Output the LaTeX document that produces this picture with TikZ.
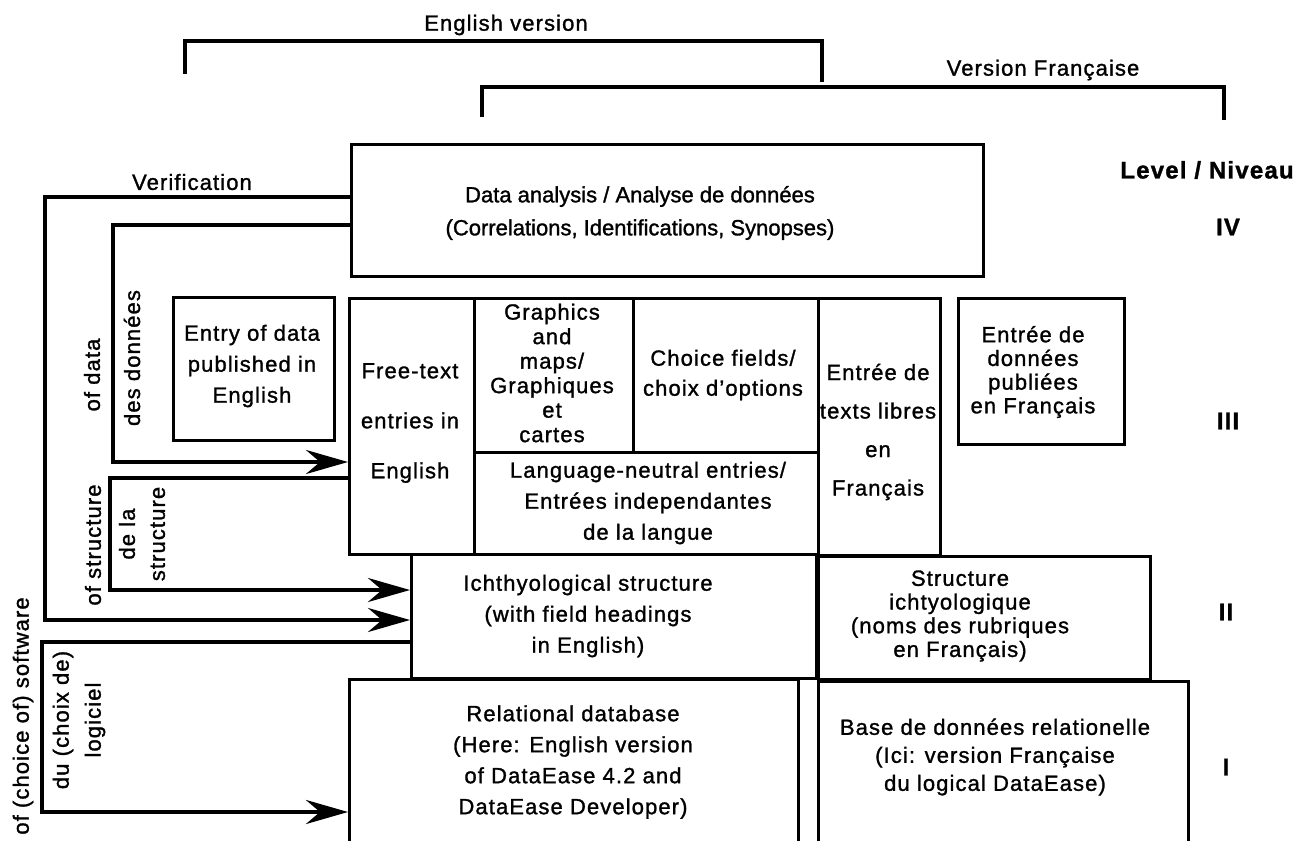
\documentclass[tikz,border=0pt]{standalone}
\usepackage{fontspec}
\setmainfont{Liberation Sans}[LetterSpace=5,FakeBold=1.3]
\newfontfamily\plainfont{Liberation Sans}[FakeBold=1.3]
\usetikzlibrary{arrows.meta}
\newcommand{\fsz}[2]{\fontsize{#1}{#2}\selectfont}
\begin{document}
\begin{tikzpicture}[x=1pt,y=-1pt,
  box/.style={draw,line width=3pt,inner sep=0pt,anchor=north west},
  txt/.style={align=center,inner sep=0pt},
  conn/.style={line width=4pt},
  arr/.style={conn,-{Stealth[length=42pt,width=24pt,inset=14pt]}},
  lab/.style={inner sep=0pt,font=\fsz{22}{26}},
  rlab/.style={lab,rotate=90,align=center},
  num/.style={inner sep=0pt,font=\fsz{24}{28}\bfseries},
  brk/.style={line width=3.2pt}
]
\useasboundingbox (0,0) rectangle (1305,840);

% top brackets
\coordinate (eA) at (185,74);
\coordinate (eB) at (822,82);
\coordinate (fA) at (482,117);
\coordinate (fB) at (1224,120);
\draw[brk] (eA) |- (eB |- 0,41) -- (eB);
\draw[brk] (fA) |- (fB |- 0,87) -- (fB);
\node[lab] (engV) at (506,25) {English version};
\node[lab] (frV) at (1043,70) {Version Française};
\node[num] (lvl) at (1207,170) {Level / Niveau};
\node[num] (l4) at (1228,227) {IV};
\node[num] (l3) at (1228,421) {III};
\node[num] (l2) at (1226,612) {II};
\node[num] (l1) at (1226,767) {I};

% boxes
\node[box,minimum width=632pt,minimum height=132pt] (da) at (350,143) {};
\node[box,minimum width=161pt,minimum height=143pt] (entE) at (172,296) {};
\node[box,minimum width=125pt,minimum height=256pt] (ft) at (348,297) {};
\node[box,minimum width=159pt,minimum height=154pt] (gr) at (473,297) {};
\node[box,minimum width=185pt,minimum height=154pt] (ch) at (632,297) {};
\node[box,minimum width=344pt,minimum height=102pt] (ln) at (473,451) {};
\node[box,minimum width=122pt,minimum height=257pt] (ftf) at (817,297) {};
\node[box,minimum width=166pt,minimum height=146pt] (entF) at (957,297) {};
\node[box,minimum width=405pt,minimum height=124pt] (ich) at (410,553) {};
\node[box,minimum width=332pt,minimum height=123pt] (sf) at (817,555) {};
\node[box,minimum width=449pt,minimum height=172pt] (rel) at (348,678) {};
\node[box,minimum width=370pt,minimum height=170pt] (base) at (817,680) {};

% box texts
\node[txt,font=\fsz{22}{33}\plainfont] (daT) at (640,213) {Data analysis / Analyse de données\\(Correlations, Identifications, Synopses)};
\node[txt,font=\fsz{22}{31}] (entET) at (252,366) {Entry of data\\published in\\English};
\node[txt,font=\fsz{22}{50}] (ftT) at (410,423) {Free-text\\entries in\\English};
\node[txt,font=\fsz{22}{24.5}] (grT) at (552,373) {Graphics\\and\\maps/\\Graphiques\\et\\cartes};
\node[txt,font=\fsz{22}{30}] (chT) at (723,375) {Choice fields/\\choix d'options};
\node[txt,font=\fsz{22}{31}] (lnT) at (648,503) {Language-neutral entries/\\Entrées independantes\\de la langue};
\node[txt,font=\fsz{22}{38.5}] (ftfT) at (878,432) {Entrée de\\texts libres\\en\\Français};
\node[txt,font=\fsz{22}{23.7}] (entFT) at (1033,372) {Entrée de\\données\\publiées\\en Français};
\node[txt,font=\fsz{22}{31}] (ichT) at (588,616) {Ichthyological structure\\(with field headings\\in English)};
\node[txt,font=\fsz{22}{23.7}] (sfT) at (960,616) {Structure\\ichtyologique\\(noms des rubriques\\en Français)};
\node[txt,font=\fsz{22}{31}] (relT) at (573,762) {Relational database\\(Here: English version\\of DataEase 4.2 and\\DataEase Developer)};
\node[txt,font=\fsz{22}{28}] (baseT) at (995,757) {Base de données relationelle\\(Ici: version Française\\du logical DataEase)};

% connector labels
\node[lab] (verif) at (192,182) {Verification};
\node[rlab] (ofdata) at (92,375) {of data};
\node[rlab] (desdon) at (132,358) {des données};
\node[rlab] (ofstr) at (93,545) {of structure};
\node[rlab,font=\fsz{22}{30}] (delastr) at (142,534) {de la\\structure};
\node[rlab] (ofsoft) at (23,716) {of (choice of) software};
\node[rlab,font=\fsz{22}{32}] (dulog) at (79,720) {du (choix de)\\logiciel};

% connectors
\draw[arr] (da.west |- 0,197) -- (45,197) -- (45,620) -- (ich.west |- 0,620);
\draw[arr] (da.west |- 0,225) -- (113,225) -- (113,462) -- (ft.west |- 0,462);
\draw[arr] (ft.west |- 0,478) -- (110,478) -- (110,590) -- (ich.west |- 0,590);
\draw[arr] (ich.west |- 0,642) -- (42,642) -- (42,812) -- (rel.west |- 0,812);
\end{tikzpicture}
\end{document}
